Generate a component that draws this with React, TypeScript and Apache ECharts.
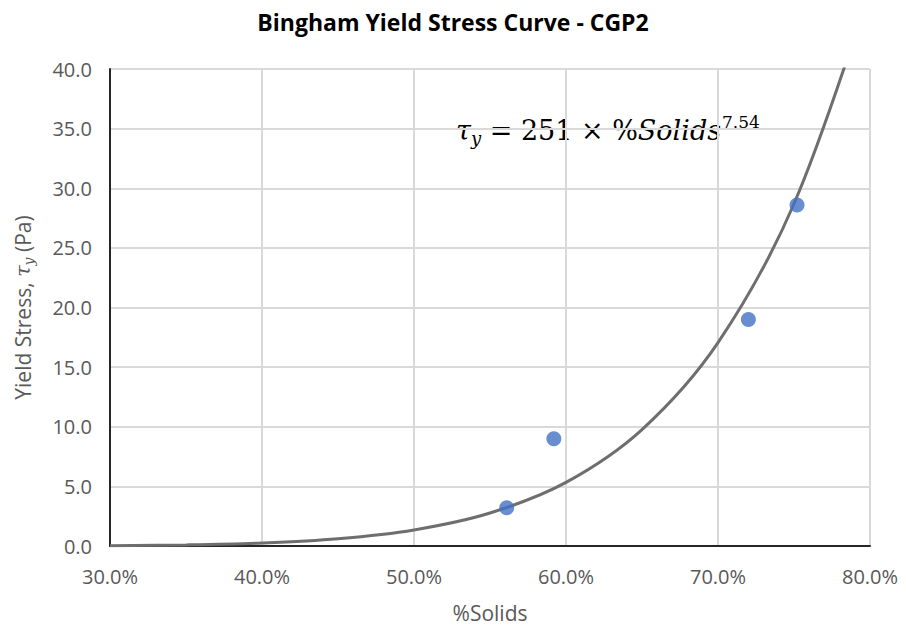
import React, { useEffect, useRef } from "react";
import * as echarts from "echarts";

const titleText = "Bingham Yield Stress Curve - CGP2";
const measuredSolids = [56.1, 59.2, 72.0, 75.2];
const measuredStress = [3.2, 9.0, 19.0, 28.6];
const fitSolids = [30, 35, 40, 45, 50, 55, 60, 65, 70, 75, 80];
const fitStress = [0.03, 0.09, 0.25, 0.61, 1.35, 2.77, 5.33, 9.76, 17.05, 28.7, 46.7];

export default function App() {
  const ref = useRef<HTMLDivElement>(null);
  useEffect(() => {
    document.body.style.margin = "0";
    if (!ref.current) return;
    const chart = echarts.init(ref.current, undefined, { renderer: "svg" });
    const axisLabelColor = "#595959";
    chart.setOption({
      animation: false,
      backgroundColor: "#ffffff",
      title: {
        text: titleText,
        left: "center",
        top: 5,
        textStyle: { fontFamily: "Open Sans", fontWeight: "bold", fontSize: 23, color: "#000" },
      },
      grid: { left: 110, right: 36, top: 69, bottom: 86 },
      xAxis: {
        type: "value",
        min: 30,
        max: 80,
        interval: 10,
        name: "%Solids",
        nameLocation: "middle",
        nameGap: 56,
        nameTextStyle: { fontFamily: "Open Sans", fontSize: 21, color: axisLabelColor },
        axisLine: { show: true, onZero: false, lineStyle: { color: "#262626", width: 2 } },
        axisTick: { show: false },
        axisLabel: {
          margin: 20,
          fontFamily: "Open Sans",
          fontSize: 20,
          color: axisLabelColor,
          formatter: (v: number) => v.toFixed(1) + "%",
        },
        splitLine: { show: true, lineStyle: { color: "#d9d9d9", width: 2 } },
      },
      yAxis: {
        type: "value",
        min: 0,
        max: 40,
        interval: 5,
        name: "{a|Yield Stress, }{i|τ}{s|y}{a| (Pa)}",
        nameLocation: "middle",
        nameGap: 74,
        nameRotate: 90,
        nameTextStyle: {
          fontFamily: "Open Sans",
          fontSize: 21,
          color: axisLabelColor,
          rich: {
            a: { fontFamily: "Open Sans", fontSize: 21, color: axisLabelColor },
            i: { fontFamily: "DejaVu Serif", fontStyle: "italic", fontSize: 21, color: axisLabelColor },
            s: { fontFamily: "DejaVu Serif", fontStyle: "italic", fontSize: 14, color: axisLabelColor, padding: [12, 0, 0, 0] },
          },
        },
        axisLine: { show: true, lineStyle: { color: "#262626", width: 2 } },
        axisTick: { show: false },
        axisLabel: {
          margin: 18,
          fontFamily: "Open Sans",
          fontSize: 20,
          color: axisLabelColor,
          formatter: (v: number) => v.toFixed(1),
        },
        splitLine: { show: true, lineStyle: { color: "#d9d9d9", width: 2 } },
      },
      series: [
        {
          type: "line",
          data: fitSolids.map((x, i) => [x, fitStress[i]]),
          smooth: 0.35,
          showSymbol: false,
          clip: true,
          lineStyle: { color: "#6e6e6e", width: 3 },
          z: 2,
        },
        {
          type: "scatter",
          data: measuredSolids.map((x, i) => [x, measuredStress[i]]),
          symbolSize: 15,
          itemStyle: { color: "#4472C4" },
          z: 3,
        },
      ],
      graphic: [
        {
          type: "text",
          left: 456,
          top: 113,
          style: {
            text: "{i|τ}{s|y}{n| = 251 × %}{i|Solids}{p|7.54}",
            rich: {
              i: { fontFamily: "DejaVu Serif", fontStyle: "italic", fontSize: 27, color: "#1a1a1a" },
              n: { fontFamily: "DejaVu Serif", fontSize: 27, color: "#1a1a1a" },
              s: { fontFamily: "DejaVu Serif", fontStyle: "italic", fontSize: 18, color: "#1a1a1a", padding: [15, 0, 0, 0] },
              p: { fontFamily: "DejaVu Serif", fontSize: 17, color: "#1a1a1a", padding: [0, 0, 18, 1] },
            },
          },
        },
      ],
    });
    return () => chart.dispose();
  }, []);
  return <div ref={ref} style={{ width: 906, height: 632 }} />;
}
